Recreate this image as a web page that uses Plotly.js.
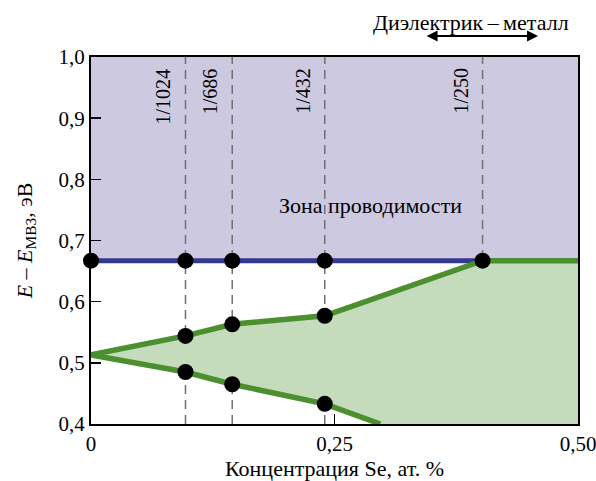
<!DOCTYPE html>
<html>
<head>
<meta charset="utf-8">
<script src="https://cdn.plot.ly/plotly-3.0.1.min.js"></script>
<style>html,body{margin:0;padding:0;background:#fff}#chart{width:596px;height:481px}</style>
</head>
<body>
<div id="chart"></div>
<script>
// Concentrations of Se (at. %) for the supercells
const cellLabels = ['1/1024', '1/686', '1/432', '1/250'];
const cellX = [0.097, 0.145, 0.240, 0.402];

// Conduction band bottom (eV)
const cbEdge = 0.667;
const cbTop = 1.0;

// Impurity band upper and lower edges (eV)
const upperX = [0, 0.097, 0.145, 0.240, 0.402, 0.5];
const upperY = [0.513, 0.544, 0.563, 0.577, 0.667, 0.667];
const lowerX = [0, 0.097, 0.145, 0.240, 0.297];
const lowerY = [0.513, 0.485, 0.465, 0.433, 0.400];

// Calculated points (markers)
const ptX = [0, 0.097, 0.145, 0.240, 0.402, 0.097, 0.145, 0.240, 0.097, 0.145, 0.240];
const ptY = [0.667, 0.667, 0.667, 0.667, 0.667, 0.544, 0.563, 0.577, 0.485, 0.465, 0.433];

const xTickVals = [0, 0.25, 0.5];
const xTickText = ['0', '0,25', '0,50'];
const yTickVals = [0.4, 0.5, 0.6, 0.7, 0.8, 0.9, 1.0];
const yTickText = ['0,4', '0,5', '0,6', '0,7', '0,8', '0,9', '1,0'];

// Transition range (arrow)
const transX = [0.343, 0.459];

const FONT = 'Liberation Serif, Times New Roman, serif';
const purple = '#cdc9e1';
const greenFill = '#c4dcbb';
const greenLine = '#4b8f2e';
const blueLine = '#35388f';

const traces = [];
// purple conduction band region
traces.push({x: [0, 0.5], y: [cbTop, cbTop], mode: 'lines', line: {width: 0}, hoverinfo: 'skip', showlegend: false});
traces.push({x: [0, 0.5], y: [cbEdge, cbEdge], mode: 'lines', line: {width: 0}, fill: 'tonexty', fillcolor: purple, hoverinfo: 'skip', showlegend: false});
// dashed lines
cellX.forEach(xv => {
  traces.push({x: [xv, xv], y: [0.4, cbTop], mode: 'lines', line: {color: '#707070', width: 1.5, dash: '9px,6px'}, hoverinfo: 'skip', showlegend: false});
});
// green impurity band polygon
const polyX = upperX.concat([0.5]).concat(lowerX.slice().reverse());
const polyY = upperY.concat([0.4]).concat(lowerY.slice().reverse());
traces.push({x: polyX, y: polyY, mode: 'lines', line: {width: 0}, fill: 'toself', fillcolor: greenFill, hoverinfo: 'skip', showlegend: false});
// lines
traces.push({x: [0, cellX[3]], y: [cbEdge, cbEdge], mode: 'lines', line: {color: blueLine, width: 5}, showlegend: false});
traces.push({x: upperX, y: upperY, mode: 'lines', line: {color: greenLine, width: 5.5}, showlegend: false});
traces.push({x: lowerX, y: lowerY, mode: 'lines', line: {color: greenLine, width: 5.5}, showlegend: false});
// markers
traces.push({x: ptX, y: ptY, mode: 'markers', marker: {color: '#000', size: 16}, cliponaxis: false, showlegend: false});

const annotations = cellLabels.map((t, i) => ({
  x: cellX[i], y: cbTop, xref: 'x', yref: 'y', text: t, textangle: -90,
  xanchor: 'right', yanchor: 'top', xshift: -9, yshift: -9, showarrow: false,
  font: {family: FONT, size: 20, color: '#000'}
}));
annotations.push({x: 0.287, y: 0.758, xref: 'x', yref: 'y', text: 'Зона проводимости', showarrow: false,
  font: {family: FONT, size: 22, color: '#000'}});
annotations.push({x: 0.390, y: 1.095, xref: 'x', yref: 'paper', xanchor: 'center', yanchor: 'middle',
  text: 'Диэлектрик\u2009–\u2009металл', showarrow: false,
  font: {family: FONT, size: 22, color: '#000'}});
annotations.push({x: transX[1], y: 1.057, ax: transX[0], ay: 0, xref: 'x', yref: 'paper', axref: 'x', ayref: 'pixel',
  text: '', showarrow: true, arrowhead: 2, startarrowhead: 2, arrowside: 'end+start', arrowsize: 1.1, startarrowsize: 1.1, arrowwidth: 2, arrowcolor: '#000'});

const layout = {
  width: 596, height: 481,
  margin: {l: 91, r: 18, t: 57, b: 57},
  paper_bgcolor: '#fff', plot_bgcolor: '#fff',
  font: {family: FONT, size: 21, color: '#000'},
  showlegend: false,
  xaxis: {
    range: [0, 0.5], tickvals: xTickVals, ticktext: xTickText,
    ticks: 'inside', ticklen: 10, tickwidth: 1.5, tickcolor: '#000',
    showline: true, linecolor: '#000', linewidth: 2, mirror: true,
    showgrid: false, zeroline: false, ticklabeloverflow: 'allow',
    tickfont: {family: FONT, size: 21},
    title: {text: 'Концентрация Se, ат. %', font: {family: FONT, size: 22}, standoff: 4}
  },
  yaxis: {
    range: [0.4, 1.0], tickvals: yTickVals, ticktext: yTickText,
    ticks: 'inside', ticklen: 10, tickwidth: 1.5, tickcolor: '#000',
    showline: true, linecolor: '#000', linewidth: 2, mirror: true,
    showgrid: false, zeroline: false,
    tickfont: {family: FONT, size: 21},
    title: {text: '<i>E</i> – <i>E</i><sub>МВЗ</sub>, эВ', font: {family: FONT, size: 22}, standoff: 20}
  },
  annotations: annotations
};

Plotly.newPlot('chart', traces, layout, {displayModeBar: false, staticPlot: true});
</script>
</body>
</html>
